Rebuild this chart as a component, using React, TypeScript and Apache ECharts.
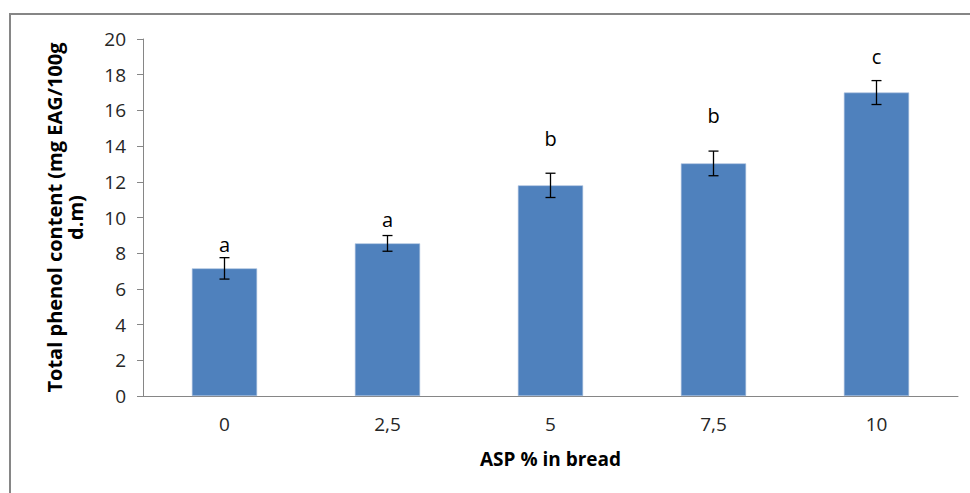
import React, { useEffect, useRef } from "react";
import * as echarts from "echarts";

const categories = ["0", "2,5", "5", "7,5", "10"];
const phenolValues = [7.15, 8.55, 11.8, 13.03, 17.0];
const errorValues = [0.6, 0.44, 0.68, 0.69, 0.67];
const groupLetters = ["a", "a", "b", "b", "c"];
const letterLevels = [8.5, 9.9, 14.4, 15.7, 19.0];
const yTicks = { min: 0, max: 20, interval: 2 };

const FONT = "'Open Sans', 'Noto Sans', sans-serif";

export default function App() {
  const ref = useRef<HTMLDivElement>(null);
  useEffect(() => {
    document.body.style.margin = "0";
    const chart = echarts.init(ref.current!, null, { renderer: "svg" });
    const errData = phenolValues.map((v, i) => [i, v, errorValues[i], letterLevels[i]]);
    chart.setOption({
      animation: false,
      backgroundColor: "#ffffff",
      textStyle: { fontFamily: FONT },
      graphic: [
        {
          type: "polyline",
          shape: { points: [[10, 493], [10, 14], [970, 14]] },
          style: { stroke: "#868686", lineWidth: 2, fill: "none" },
          silent: true,
        },
      ],
      grid: { left: 143, right: 12, top: 39, bottom: 97 },
      xAxis: {
        type: "category",
        data: categories,
        name: "ASP % in bread",
        nameLocation: "middle",
        nameGap: 53,
        nameTextStyle: { fontSize: 19, fontWeight: "bold", color: "#000", fontFamily: FONT },
        axisLine: { lineStyle: { color: "#868686", width: 1 } },
        axisTick: { show: false },
        axisLabel: { fontSize: 19, color: "#262626", margin: 18, fontFamily: FONT },
      },
      yAxis: {
        type: "value",
        min: yTicks.min,
        max: yTicks.max,
        interval: yTicks.interval,
        name: "Total phenol content (mg EAG/100g\nd.m)",
        nameLocation: "middle",
        nameGap: 57,
        nameTextStyle: { fontSize: 20, fontWeight: "bold", color: "#000", lineHeight: 21, fontFamily: FONT },
        axisLine: { show: true, lineStyle: { color: "#868686", width: 1 } },
        axisTick: { show: true, length: 6, lineStyle: { color: "#868686" } },
        splitLine: { show: false },
        axisLabel: { fontSize: 19, color: "#262626", margin: 17, fontFamily: FONT },
      },
      series: [
        {
          type: "bar",
          data: phenolValues,
          barWidth: "40%",
          itemStyle: { color: "#4F81BD", borderColor: "#A9C0DE", borderWidth: 0.6 },
        },
        {
          type: "custom",
          data: errData,
          z: 5,
          renderItem: (params: any, api: any) => {
            const i = api.value(0);
            const v = api.value(1);
            const e = api.value(2);
            const lv = api.value(3);
            const top = api.coord([i, v + e]);
            const bot = api.coord([i, v - e]);
            const lt = api.coord([i, lv]);
            const hw = 5;
            const st = { stroke: "#000", lineWidth: 1.3 };
            return {
              type: "group",
              children: [
                { type: "line", shape: { x1: top[0], y1: top[1], x2: bot[0], y2: bot[1] }, style: st },
                { type: "line", shape: { x1: top[0] - hw, y1: top[1], x2: top[0] + hw, y2: top[1] }, style: st },
                { type: "line", shape: { x1: bot[0] - hw, y1: bot[1], x2: bot[0] + hw, y2: bot[1] }, style: st },
                {
                  type: "text",
                  x: lt[0],
                  y: lt[1],
                  style: {
                    text: groupLetters[params.dataIndex],
                    fontSize: 20,
                    fontFamily: FONT,
                    fill: "#000",
                    align: "center",
                    verticalAlign: "middle",
                  },
                },
              ],
            };
          },
        },
      ],
    });
    return () => chart.dispose();
  }, []);
  return <div ref={ref} style={{ width: 970, height: 493 }} />;
}
